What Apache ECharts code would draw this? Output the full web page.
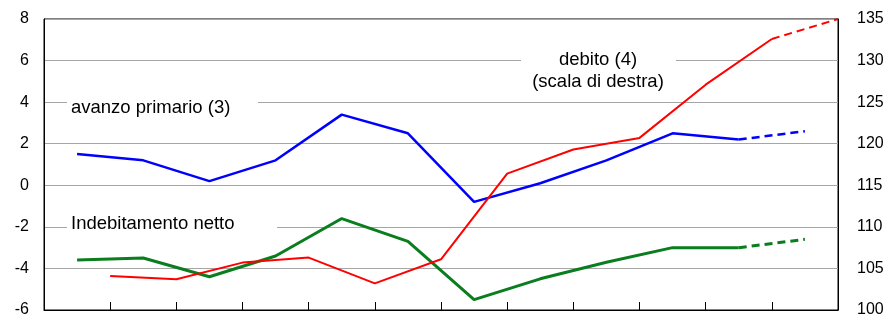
<!DOCTYPE html>
<html>
<head>
<meta charset="utf-8">
<script src="https://cdn.jsdelivr.net/npm/echarts@6/dist/echarts.min.js"></script>
<style>
  html, body { margin: 0; padding: 0; background: #fff; }
  #chart { width: 890px; height: 318px; }
</style>
</head>
<body>
<div id="chart"></div>
<script>
// 12 periods; flow series sit mid-period, the debt stock at period end
const periods = 12;
const avanzoPrimario = [1.5, 1.2, 0.2, 1.2, 3.4, 2.5, -0.8, 0.1, 1.2, 2.5, 2.2, 2.6];
const indebitamento = [-3.6, -3.5, -4.4, -3.4, -1.6, -2.7, -5.5, -4.5, -3.7, -3.0, -3.0, -2.6];
const debito = [104.1, 103.7, 105.7, 106.3, 103.2, 106.1, 116.4, 119.3, 120.7, 127.1, 132.6, 135.0];
// last point of each series is a forecast (dashed)
const forecastFrom = 10;

const leftTicks = { min: -6, max: 8, step: 2 };
const rightTicks = { min: 100, max: 135, step: 5 };

const FONT = "Liberation Sans, Arial, sans-serif";

const mid = (arr) => arr.map((v, i) => [i + 0.5, v]);
const end = (arr) => arr.map((v, i) => [i + 1, v]);

function split(points, name, color, width, yAxisIndex) {
  return [
    {
      name: name, type: "line", yAxisIndex: yAxisIndex,
      data: points.slice(0, forecastFrom + 1),
      symbol: "none", silent: true, animation: false,
      lineStyle: { color: color, width: width },
    },
    {
      name: name + " (prev)", type: "line", yAxisIndex: yAxisIndex,
      data: points.slice(forecastFrom),
      symbol: "none", silent: true, animation: false,
      lineStyle: { color: color, width: width, type: [8, 5] },
    },
  ];
}

const chart = echarts.init(document.getElementById("chart"), null, { renderer: "canvas" });

chart.setOption({
  backgroundColor: "#fff",
  animation: false,
  grid: {
    left: 44, right: 52, top: 19, bottom: 8,
    show: true, borderColor: "#000", borderWidth: 1,
  },
  xAxis: {
    type: "value", min: 0, max: periods, interval: 1,
    axisLine: { show: true, onZero: false, lineStyle: { color: "#000", width: 1 } },
    axisTick: { show: true, inside: true, length: 8, lineStyle: { color: "#000" } },
    axisLabel: { show: false },
    splitLine: { show: false },
  },
  yAxis: [
    {
      type: "value", position: "left",
      min: leftTicks.min, max: leftTicks.max, interval: leftTicks.step,
      axisLine: { show: true, onZero: false, lineStyle: { color: "#000" } },
      axisTick: { show: false },
      axisLabel: { color: "#000", fontSize: 16, fontFamily: FONT, margin: 15 },
      splitLine: { show: true, lineStyle: { color: "#a6a6a6", width: 1 } },
    },
    {
      type: "value", position: "right",
      min: rightTicks.min, max: rightTicks.max, interval: rightTicks.step,
      axisLine: { show: true, onZero: false, lineStyle: { color: "#000" } },
      axisTick: { show: false },
      axisLabel: { color: "#000", fontSize: 16, fontFamily: FONT, margin: 19 },
      splitLine: { show: false },
    },
  ],
  series: [
    ...split(mid(avanzoPrimario), "avanzo primario", "#0000ff", 2.5, 0),
    ...split(mid(indebitamento), "Indebitamento netto", "#0a7d1e", 3, 0),
    ...split(end(debito), "debito", "#ff0000", 2, 1),
  ],
  graphic: [
    { type: "rect", shape: { x: 67, y: 94, width: 191, height: 17 }, style: { fill: "#fff" }, z: 1 },
    { type: "rect", shape: { x: 67, y: 213, width: 210, height: 20 }, style: { fill: "#fff" }, z: 1 },
    { type: "rect", shape: { x: 521, y: 50, width: 155, height: 20 }, style: { fill: "#fff" }, z: 1 },
    {
      type: "text", left: 71, top: 98, z: 2,
      style: { text: "avanzo primario (3)", fill: "#000", font: "18.5px " + FONT },
    },
    {
      type: "text", left: 71, top: 214, z: 2,
      style: { text: "Indebitamento netto", fill: "#000", font: "18.5px " + FONT },
    },
    {
      type: "text", x: 598, y: 49, z: 2,
      style: {
        text: "debito (4)\n(scala di destra)", fill: "#000", font: "18.5px " + FONT,
        align: "center", lineHeight: 22,
      },
    },
  ],
});
</script>
</body>
</html>
